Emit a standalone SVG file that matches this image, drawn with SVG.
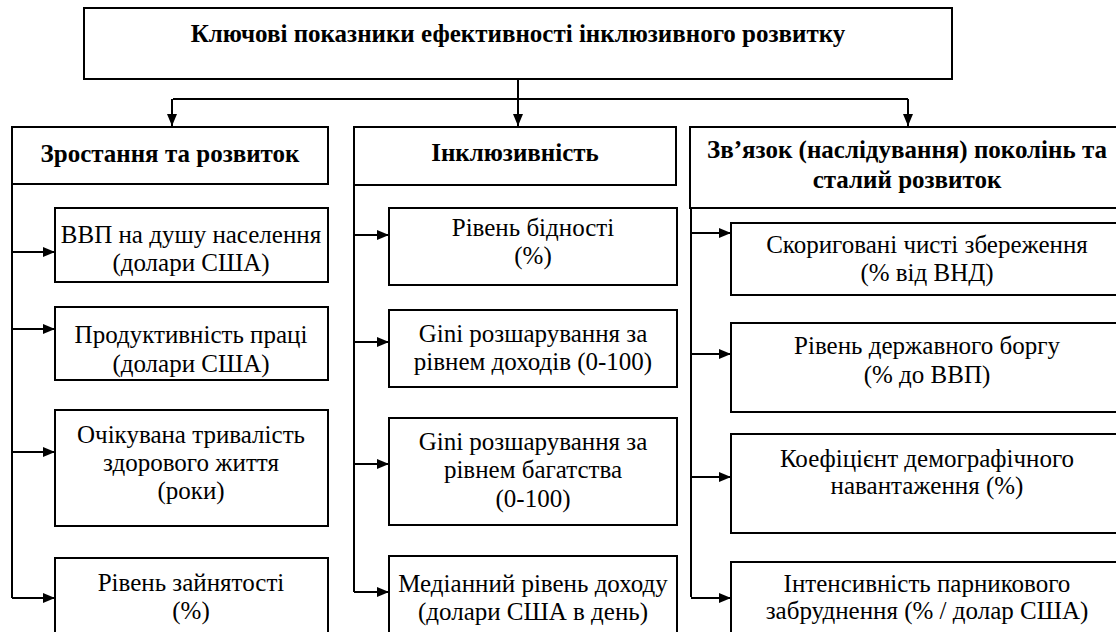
<svg xmlns="http://www.w3.org/2000/svg" width="1116" height="632" viewBox="0 0 1116 632">
<defs>
<marker id="ah" markerWidth="12" markerHeight="10" viewBox="0 0 12 10" refX="12" refY="5" orient="auto" markerUnits="userSpaceOnUse">
<path d="M0,0 L12,5 L0,10 Z" fill="#000"/>
</marker>
</defs>
<style>
rect{fill:#fff;stroke:#000;stroke-width:2}
.c{fill:none;stroke:#000;stroke-width:2}
text{font-family:'Liberation Serif','DejaVu Serif',serif;font-size:25px;fill:#000;text-anchor:middle}
.b{font-weight:bold}
</style>
<rect width="1116" height="632" style="stroke:none"/>
<g id="title">
<rect x="84" y="8" width="868" height="71"/>
<text class="b" x="518" y="42">Ключові показники ефективності інклюзивного розвитку</text>
</g>
<g id="h1">
<rect x="12" y="127" width="316" height="57"/>
<text class="b" x="170" y="162">Зростання та розвиток</text>
</g>
<g id="h2">
<rect x="354" y="127" width="322" height="58"/>
<text class="b" x="515" y="161">Інклюзивність</text>
</g>
<g id="h3">
<rect x="690" y="127" width="430" height="81"/>
<text class="b" x="907" y="158">Зв’язок (наслідування) поколінь та</text>
<text class="b" x="907" y="188">сталий розвиток</text>
</g>
<g id="l1">
<rect x="55" y="208" width="273" height="74"/>
<text x="191" y="243">ВВП на душу населення</text>
<text x="191" y="271">(долари США)</text>
</g>
<g id="l2">
<rect x="55" y="307" width="273" height="73"/>
<text x="191" y="343">Продуктивність праці</text>
<text x="191" y="372">(долари США)</text>
</g>
<g id="l3">
<rect x="55" y="410" width="273" height="116"/>
<text x="191" y="443">Очікувана тривалість</text>
<text x="191" y="471">здорового життя</text>
<text x="191" y="499">(роки)</text>
</g>
<g id="l4">
<rect x="55" y="558" width="273" height="90"/>
<text x="191" y="591">Рівень зайнятості</text>
<text x="191" y="619">(%)</text>
</g>
<g id="m1">
<rect x="389" y="208" width="288" height="77"/>
<text x="533" y="236">Рівень бідності</text>
<text x="533" y="264">(%)</text>
</g>
<g id="m2">
<rect x="389" y="310" width="288" height="77"/>
<text x="533" y="342">Gini розшарування за</text>
<text x="533" y="370">рівнем доходів (0-100)</text>
</g>
<g id="m3">
<rect x="389" y="418" width="288" height="107"/>
<text x="533" y="450">Gini розшарування за</text>
<text x="533" y="478">рівнем багатства</text>
<text x="533" y="507">(0-100)</text>
</g>
<g id="m4">
<rect x="389" y="556" width="288" height="90"/>
<text x="533" y="592">Медіанний рівень доходу</text>
<text x="533" y="620">(долари США в день)</text>
</g>
<g id="r1">
<rect x="731" y="223" width="392" height="72"/>
<text x="927" y="253">Скориговані чисті збереження</text>
<text x="927" y="281">(% від ВНД)</text>
</g>
<g id="r2">
<rect x="731" y="323" width="392" height="89"/>
<text x="927" y="354">Рівень державного боргу</text>
<text x="927" y="383">(% до ВВП)</text>
</g>
<g id="r3">
<rect x="731" y="434" width="392" height="99"/>
<text x="927" y="467">Коефіцієнт демографічного</text>
<text x="927" y="494">навантаження (%)</text>
</g>
<g id="r4">
<rect x="731" y="562" width="392" height="90"/>
<text x="927" y="592">Інтенсивність парникового</text>
<text x="927" y="619">забруднення (% / долар США)</text>
</g>
<g id="connectors">
<path class="c" d="M518,79 V126"/>
<path class="c" d="M518,99 H173 M518,99 H908"/>
<path class="c" d="M172,99 V126" marker-end="url(#ah)"/>
<path class="c" d="M908,99 V126" marker-end="url(#ah)"/>
<path class="c" d="M518,99 V126" marker-end="url(#ah)"/>
<path class="c" d="M12,184 V598"/>
<path class="c" d="M12,252 H55" marker-end="url(#ah)"/>
<path class="c" d="M12,329 H55" marker-end="url(#ah)"/>
<path class="c" d="M12,452 H55" marker-end="url(#ah)"/>
<path class="c" d="M12,598 H55" marker-end="url(#ah)"/>
<path class="c" d="M354,185 V592"/>
<path class="c" d="M354,235 H389" marker-end="url(#ah)"/>
<path class="c" d="M354,342 H389" marker-end="url(#ah)"/>
<path class="c" d="M354,464 H389" marker-end="url(#ah)"/>
<path class="c" d="M354,592 H389" marker-end="url(#ah)"/>
<path class="c" d="M691,208 V597"/>
<path class="c" d="M691,233 H731" marker-end="url(#ah)"/>
<path class="c" d="M691,354 H731" marker-end="url(#ah)"/>
<path class="c" d="M691,477 H731" marker-end="url(#ah)"/>
<path class="c" d="M691,598 H731" marker-end="url(#ah)"/>
</g>
</svg>
